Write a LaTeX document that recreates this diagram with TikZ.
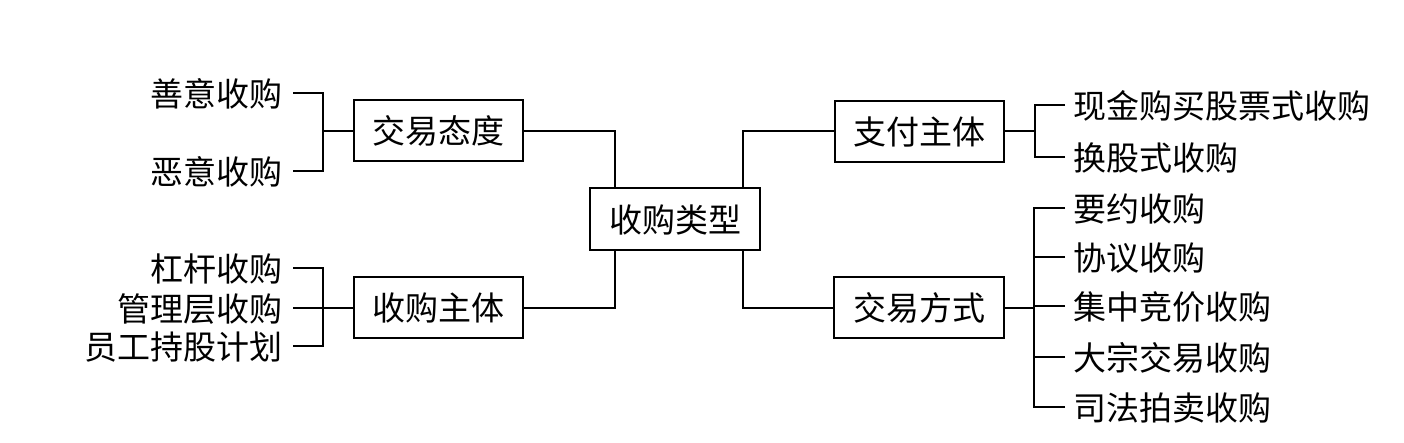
\documentclass[tikz,border=0pt]{standalone}
\usepackage{fontspec}
\setmainfont{Noto Sans CJK SC}
\usetikzlibrary{calc}
\tikzset{
  box/.style={draw, line width=2pt, minimum width=169pt, minimum height=61pt, inner sep=0pt,
              font=\fontsize{33}{36}\selectfont, text height=26pt, text depth=0pt},
  lleaf/.style={anchor=east, inner xsep=10pt, inner ysep=0pt, font=\fontsize{33}{36}\selectfont,
              text height=26pt, text depth=0pt},
  rleaf/.style={anchor=west, inner xsep=8pt, inner ysep=0pt, font=\fontsize{33}{36}\selectfont,
              text height=26pt, text depth=0pt},
  conn/.style={line width=2pt}
}
\begin{document}
\begin{tikzpicture}[x=1pt,y=-1pt]
\useasboundingbox (0,0) rectangle (1404,442);
% boxes
\node[box, minimum width=170pt, minimum height=62pt] (root) at (675,219) {收购类型};
\node[box] (jytd) at (438.5,130.5) {交易态度};
\node[box] (sgzt) at (438.5,307.5) {收购主体};
\node[box] (zfzt) at (919,131) {支付主体};
\node[box, minimum width=170pt] (jyfs) at (919,307.5) {交易方式};
% left leaves
\node[lleaf] (l1) at (293,93) {善意收购};
\node[lleaf] (l2) at (293,171) {恶意收购};
\node[lleaf] (l3) at (293,268) {杠杆收购};
\node[lleaf] (l4) at (293,308) {管理层收购};
\node[lleaf] (l5) at (293,346) {员工持股计划};
% right leaves
\node[rleaf] (r1) at (1065,105) {现金购买股票式收购};
\node[rleaf] (r2) at (1065,157) {换股式收购};
\node[rleaf] (r3) at (1065,208) {要约收购};
\node[rleaf] (r4) at (1065,257) {协议收购};
\node[rleaf] (r5) at (1065,306) {集中竞价收购};
\node[rleaf] (r6) at (1065,357) {大宗交易收购};
\node[rleaf] (r7) at (1065,407) {司法拍卖收购};
% root connectors
\draw[conn] (jytd.east) -| ([xshift=-60pt]root.north);
\draw[conn] (sgzt.east) -| ([xshift=-60pt]root.south);
\draw[conn] (zfzt.west) -| ([xshift=68pt]root.north);
\draw[conn] (jyfs.west) -| ([xshift=68pt]root.south);
% left brackets
\draw[conn] (l1.east) -| ([xshift=-30pt]jytd.west) -- (jytd.west);
\draw[conn] (l2.east) -| ([xshift=-30pt]jytd.west);
\draw[conn] (l3.east) -| ([xshift=-30pt]sgzt.west) -- (sgzt.west);
\draw[conn] (l4.east) -| ([xshift=-30pt]sgzt.west);
\draw[conn] (l5.east) -| ([xshift=-30pt]sgzt.west);
% right brackets
\draw[conn] (r1.west) -| ([xshift=30pt]zfzt.east) -- (zfzt.east);
\draw[conn] (r2.west) -| ([xshift=30pt]zfzt.east);
\draw[conn] (r3.west) -| ([xshift=29pt]jyfs.east) -- (jyfs.east);
\draw[conn] (r4.west) -| ([xshift=29pt]jyfs.east);
\draw[conn] (r5.west) -| ([xshift=29pt]jyfs.east);
\draw[conn] (r6.west) -| ([xshift=29pt]jyfs.east);
\draw[conn] (r7.west) -| ([xshift=29pt]jyfs.east);
\end{tikzpicture}
\end{document}
